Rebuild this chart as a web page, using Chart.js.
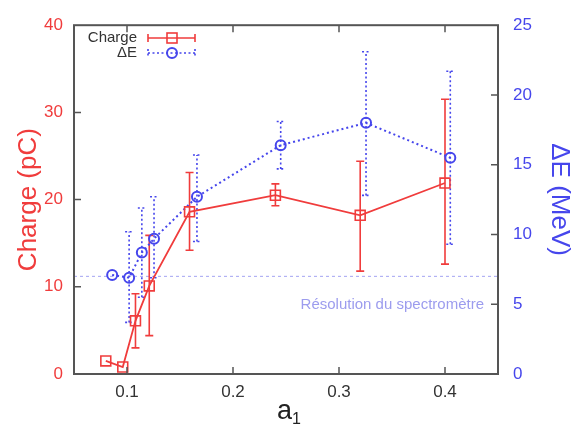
<!DOCTYPE html>
<html>
<head>
<meta charset="utf-8">
<script src="https://cdn.jsdelivr.net/npm/chart.js@4.4.0/dist/chart.umd.min.js"></script>
<style>
  html, body { margin: 0; padding: 0; background: #fff; }
  #wrap { width: 575px; height: 424px; }
</style>
</head>
<body>
<div id="wrap"><canvas id="chart" width="575" height="424"></canvas></div>
<script>
// données

// a1 et charge (pC)
const aCharge    = [0.080, 0.096, 0.108, 0.121, 0.159, 0.240, 0.320, 0.400];
const charge     = [1.5, 0.8, 6.1, 10.1, 18.6, 20.5, 18.2, 21.9];
const chargeLow  = [null, null, 3.0, 4.4, 14.2, 19.3, 11.8, 12.6];
const chargeHigh = [null, null, 9.2, 15.9, 23.1, 21.8, 24.4, 31.5];

// a1 et largeur spectrale ΔE (MeV)
const aEnergy    = [0.086, 0.102, 0.114, 0.1255, 0.166, 0.245, 0.3255, 0.405];
const energy     = [7.1, 6.9, 8.7, 9.7, 12.7, 16.4, 18.0, 15.5];
const energyLow  = [null, 3.7, 5.5, 6.9, 9.5, 14.7, 12.8, 9.3];
const energyHigh = [null, 10.2, 11.9, 12.7, 15.7, 18.1, 23.1, 21.7];

// graduations
const xTicks = [0.1, 0.2, 0.3, 0.4];
const chargeTicks = [0, 10, 20, 30, 40];
const energyTicks = [0, 5, 10, 15, 20, 25];

// résolution du spectromètre (MeV)
const resolution = 7;

const RED = '#f03c3c';
const BLUE = '#4646ec';
const FRAME = '#555';
const FONT = '"Liberation Sans", Arial, sans-serif';

function toPoints(xs, ys) {
    let pts = [];
    for (let i = 0; i < xs.length; i++) {
        pts[i] = {x: xs[i], y: ys[i]};
    }
    return pts;
}

// barres d'erreur verticales
function drawErrorBars(ctx, xScale, yScale, xs, lows, highs, color, dash) {
    ctx.save();
    ctx.strokeStyle = color;
    ctx.lineWidth = 1.6;
    ctx.setLineDash(dash);
    for (let i = 0; i < xs.length; i++) {
        if (lows[i] == null) continue;
        const px = xScale.getPixelForValue(xs[i]);
        const y1 = yScale.getPixelForValue(lows[i]);
        const y2 = yScale.getPixelForValue(highs[i]);
        ctx.beginPath();
        ctx.moveTo(px, y1); ctx.lineTo(px, y2);
        ctx.moveTo(px - 4, y1); ctx.lineTo(px + 4, y1);
        ctx.moveTo(px - 4, y2); ctx.lineTo(px + 4, y2);
        ctx.stroke();
    }
    ctx.restore();
}

const decorPlugin = {
    id: 'decor',
    beforeDatasetsDraw(chart) {
        const ctx = chart.ctx;
        const {x, y, y2} = chart.scales;
        const area = chart.chartArea;

        // ligne de résolution
        const ry = y2.getPixelForValue(resolution);
        ctx.save();
        ctx.strokeStyle = '#a4a4f2';
        ctx.lineWidth = 1;
        ctx.setLineDash([3, 3]);
        ctx.beginPath();
        ctx.moveTo(area.left, ry); ctx.lineTo(area.right, ry);
        ctx.stroke();
        ctx.restore();

        ctx.save();
        ctx.fillStyle = '#9c9cee';
        ctx.font = '15px ' + FONT;
        ctx.textAlign = 'right';
        ctx.textBaseline = 'middle';
        ctx.fillText('Résolution du spectromètre', 484, 305);
        ctx.restore();

        drawErrorBars(ctx, x, y2, aEnergy, energyLow, energyHigh, BLUE, [2, 2.5]);
        drawErrorBars(ctx, x, y, aCharge, chargeLow, chargeHigh, RED, []);
    },
    afterDatasetsDraw(chart) {
        const ctx = chart.ctx;
        const {x, y, y2} = chart.scales;
        const area = chart.chartArea;

        // cadre + graduations vers l'intérieur
        ctx.save();
        ctx.strokeStyle = FRAME;
        ctx.lineWidth = 2;
        ctx.strokeRect(area.left, area.top, area.right - area.left, area.bottom - area.top);
        ctx.lineWidth = 1.5;
        ctx.beginPath();
        xTicks.forEach(v => {
            const px = x.getPixelForValue(v);
            ctx.moveTo(px, area.bottom); ctx.lineTo(px, area.bottom - 7);
            ctx.moveTo(px, area.top); ctx.lineTo(px, area.top + 7);
        });
        chargeTicks.slice(1, -1).forEach(v => {
            const py = y.getPixelForValue(v);
            ctx.moveTo(area.left, py); ctx.lineTo(area.left + 7, py);
        });
        energyTicks.slice(1, -1).forEach(v => {
            const py = y2.getPixelForValue(v);
            ctx.moveTo(area.right, py); ctx.lineTo(area.right - 7, py);
        });
        ctx.stroke();
        ctx.restore();

        // légende
        ctx.save();
        ctx.font = '15px ' + FONT;
        ctx.fillStyle = '#333';
        ctx.textAlign = 'right';
        ctx.textBaseline = 'middle';
        ctx.fillText('Charge', 137, 38);
        ctx.fillText('ΔE', 137, 53);

        ctx.lineWidth = 1.6;
        ctx.strokeStyle = RED;
        ctx.beginPath();
        ctx.moveTo(148, 38); ctx.lineTo(195, 38);
        ctx.moveTo(148, 34); ctx.lineTo(148, 42);
        ctx.moveTo(195, 34); ctx.lineTo(195, 42);
        ctx.stroke();
        ctx.strokeRect(167, 33, 10, 10);

        ctx.strokeStyle = BLUE;
        ctx.setLineDash([2, 2.5]);
        ctx.beginPath();
        ctx.moveTo(148, 53); ctx.lineTo(195, 53);
        ctx.moveTo(148, 49); ctx.lineTo(148, 57);
        ctx.moveTo(195, 49); ctx.lineTo(195, 57);
        ctx.stroke();
        ctx.setLineDash([]);
        ctx.lineWidth = 2;
        ctx.beginPath();
        ctx.arc(172, 53, 5, 0, Math.PI * 2);
        ctx.stroke();
        ctx.restore();

        // titre de l'axe x : a indice 1
        ctx.save();
        ctx.fillStyle = '#222';
        ctx.textBaseline = 'alphabetic';
        ctx.textAlign = 'left';
        ctx.font = '27px ' + FONT;
        ctx.fillText('a', 277, 419);
        ctx.font = '16px ' + FONT;
        ctx.fillText('1', 292, 424);
        ctx.restore();
    }
};

new Chart(document.getElementById('chart'), {
    type: 'scatter',
    data: {
        datasets: [
            {
                label: 'Charge',
                data: toPoints(aCharge, charge),
                yAxisID: 'y',
                showLine: true,
                borderColor: RED,
                borderWidth: 1.8,
                backgroundColor: 'rgba(0,0,0,0)',
                pointStyle: 'rect',
                pointRadius: 7,
                pointBorderWidth: 1.6,
                pointBorderColor: RED,
                order: 1
            },
            {
                label: 'ΔE',
                data: toPoints(aEnergy, energy),
                yAxisID: 'y2',
                showLine: true,
                borderColor: BLUE,
                borderWidth: 2,
                borderDash: [2, 3],
                backgroundColor: 'rgba(0,0,0,0)',
                pointStyle: 'circle',
                pointRadius: 5,
                pointBorderWidth: 2,
                pointBorderColor: BLUE,
                order: 2
            }
        ]
    },
    options: {
        responsive: false,
        animation: false,
        layout: { padding: { top: 22, left: 0, right: 0, bottom: 0 } },
        plugins: {
            legend: { display: false },
            tooltip: { enabled: false }
        },
        scales: {
            x: {
                type: 'linear',
                min: 0.05,
                max: 0.45,
                grid: { display: false, drawTicks: false },
                border: { display: false },
                afterBuildTicks: s => { s.ticks = xTicks.map(v => ({value: v})); },
                afterFit: s => { s.height = 50; },
                ticks: {
                    padding: 8,
                    color: '#333',
                    font: { family: FONT, size: 17 },
                    callback: v => v.toFixed(1)
                }
            },
            y: {
                position: 'left',
                min: 0,
                max: 40,
                grid: { display: false, drawTicks: false },
                border: { display: false },
                afterBuildTicks: s => { s.ticks = chargeTicks.map(v => ({value: v})); },
                afterFit: s => { s.width = 74; },
                ticks: {
                    padding: 11,
                    color: RED,
                    font: { family: FONT, size: 17 }
                },
                title: {
                    display: true,
                    text: 'Charge (pC)',
                    color: RED,
                    font: { family: FONT, size: 26 },
                    padding: { top: 13, bottom: 0 }
                }
            },
            y2: {
                position: 'right',
                min: 0,
                max: 25,
                grid: { display: false, drawTicks: false },
                border: { display: false },
                afterBuildTicks: s => { s.ticks = energyTicks.map(v => ({value: v})); },
                afterFit: s => { s.width = 77; },
                ticks: {
                    padding: 15,
                    color: BLUE,
                    font: { family: FONT, size: 17 }
                },
                title: {
                    display: true,
                    text: 'ΔE (MeV)',
                    color: BLUE,
                    font: { family: FONT, size: 26 },
                    padding: { top: 0, bottom: 0 }
                }
            }
        }
    },
    plugins: [decorPlugin]
});
</script>
</body>
</html>
